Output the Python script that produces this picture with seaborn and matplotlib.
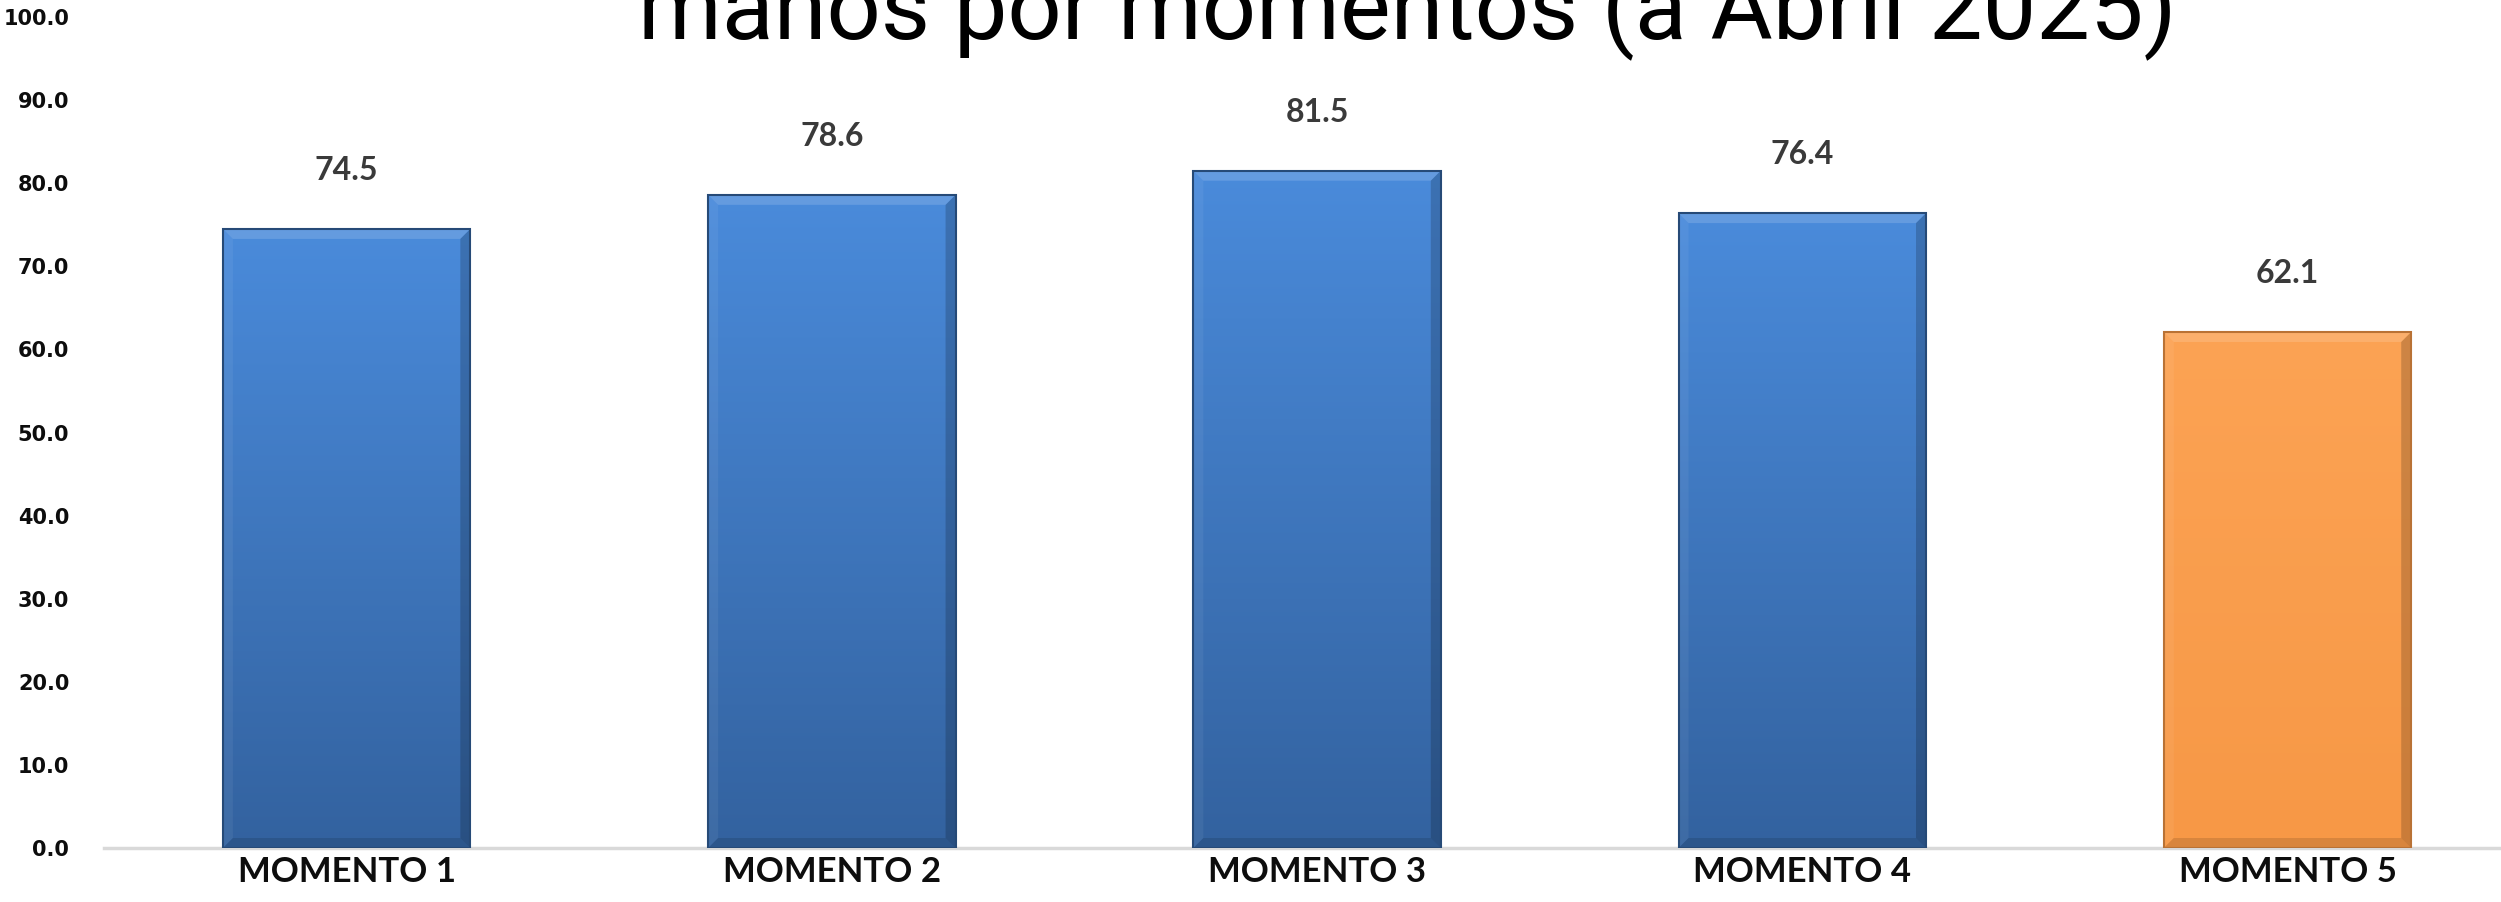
import numpy as np
import seaborn as sns
import matplotlib.pyplot as plt
from matplotlib.colors import LinearSegmentedColormap, to_rgb
from matplotlib.patches import Polygon

# ---- data ----
categories = ["MOMENTO 1", "MOMENTO 2", "MOMENTO 3", "MOMENTO 4", "MOMENTO 5"]
values = [74.5, 78.6, 81.5, 76.4, 62.1]
bar_colors = ["#3f7cc8", "#3f7cc8", "#3f7cc8", "#3f7cc8", "#fa9d4c"]
top_colors = ["#4a8bdb", "#4a8bdb", "#4a8bdb", "#4a8bdb", "#fca354"]
bottom_colors = ["#33629f", "#33629f", "#33629f", "#33629f", "#f79846"]
y_ticks = [0, 10, 20, 30, 40, 50, 60, 70, 80, 90, 100]
title_text = "manos por momentos (a Abril 2025)"

sns.set_style("white")
plt.rcParams['font.family'] = ['DejaVu Sans']

W, H = 2501, 902
fig = plt.figure(figsize=(W / 100, H / 100), dpi=100)
fig.patch.set_facecolor("white")
ax = fig.add_axes([104 / W, 1 - 848 / H, 1 - 104 / W, (848 - 17) / H])

sns.barplot(x=categories, y=values, hue=categories, palette=dict(zip(categories, bar_colors)),
            width=0.51, legend=False, ax=ax, saturation=1, linewidth=0)

ax.set_xlim(-0.5, 4.44)
ax.set_ylim(0, 100)

# ---- bevelled gradient look on each bar ----
grad = np.linspace(0, 1, 256).reshape(-1, 1)
dx = 10 / 485.0
dy = 10 / 8.31
for p, c_top, c_bot in zip(ax.patches, top_colors, bottom_colors):
    x0, w, h = p.get_x(), p.get_width(), p.get_height()
    x1 = x0 + w
    cm = LinearSegmentedColormap.from_list("g", [c_bot, c_top])
    im = ax.imshow(grad, extent=[x0, x1, 0, h], origin="lower", aspect="auto",
                   cmap=cm, zorder=2.1)
    im.set_clip_path(p)
    ax.add_patch(Polygon([(x0, h), (x0 + dx, h - dy), (x1 - dx, h - dy), (x1, h)],
                         closed=True, facecolor="white", alpha=0.15, lw=0, zorder=2.2))
    ax.add_patch(Polygon([(x0, 0), (x0 + dx, dy), (x0 + dx, h - dy), (x0, h)],
                         closed=True, facecolor="white", alpha=0.06, lw=0, zorder=2.2))
    ax.add_patch(Polygon([(x1 - dx, dy), (x1, 0), (x1, h), (x1 - dx, h - dy)],
                         closed=True, facecolor="black", alpha=0.18, lw=0, zorder=2.2))
    ax.add_patch(Polygon([(x0, 0), (x1, 0), (x1 - dx, dy), (x0 + dx, dy)],
                         closed=True, facecolor="black", alpha=0.12, lw=0, zorder=2.2))
    edge = np.array(to_rgb(c_bot)) * 0.75
    ax.add_patch(plt.Rectangle((x0, 0), w, h, fill=False, edgecolor=edge,
                               lw=1.5, zorder=2.3))

# value labels
for i, v in enumerate(values):
    ax.text(i, v + 7.0, f"{v:.1f}", ha="center", va="center", fontsize=23,
            fontweight="bold", color="#3a3a3a", family=["Lato", "DejaVu Sans"], zorder=3)

# axes styling
for s in ["top", "right", "left"]:
    ax.spines[s].set_visible(False)
ax.spines["bottom"].set_color("#d9d9d9")
ax.spines["bottom"].set_linewidth(2.5)
ax.spines["bottom"].set_zorder(1)
ax.set_yticks(y_ticks)
ax.set_yticklabels([f"{t:.1f}" for t in y_ticks], fontsize=15, fontweight="bold", color="#0d0d0d")
ax.tick_params(axis="y", length=0, pad=25)
ax.tick_params(axis="x", length=0, pad=6)
for lab in ax.get_xticklabels():
    lab.set_fontsize(25)
    lab.set_fontweight("bold")
    lab.set_family(["Lato", "DejaVu Sans"])
    lab.set_color("#0d0d0d")
ax.set_xlabel("")
ax.set_ylabel("")

# title, cut off at the top edge like the original
t = fig.text(1407 / W, 1 - 38 / H, title_text, ha="center", va="baseline",
             fontsize=70, fontweight="normal", family=["Roboto", "DejaVu Sans"], color="black")
fig.canvas.draw()
bb = t.get_window_extent()
t.set_fontsize(70 * 1539 / bb.width)

fig.savefig("out.png", dpi=100)
plt.close()
